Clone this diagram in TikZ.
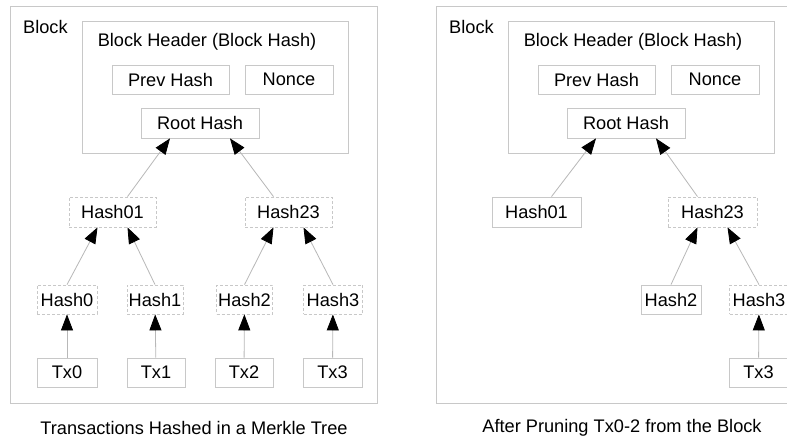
\documentclass[tikz,border=0pt]{standalone}
\usepackage{fontspec}
\setmainfont{Liberation Sans}
\usetikzlibrary{arrows.meta,calc}
\definecolor{boxgray}{HTML}{C8C8C8}
\definecolor{linegray}{HTML}{B8B8B8}
\begin{document}
\begin{tikzpicture}[x=1pt,y=-1pt, font=\fontsize{18.2}{21}\selectfont,
  box/.style={draw=boxgray, line width=0.8pt, inner sep=0pt, minimum height=29pt},
  dbox/.style={box, dash pattern=on 3pt off 2pt},
  lbl/.style={inner sep=0pt},
  arr/.style={draw=linegray, line width=0.8pt, -{Triangle[length=16pt,width=12pt,black]}},
  frame/.style={draw=boxgray, line width=0.8pt}]
\fill[white] (0,0) rectangle (787,440);
\clip (0,0) rectangle (787,440);
% ---------- left panel ----------
\draw[frame] (10,6) rectangle (377,403);
\draw[frame] (82,21) rectangle (348,153);
\node[lbl, anchor=west] (blkL) at (23,27) {Block};
\node[lbl] (hdrL) at (207,42) {Block Header (Block Hash)};
\node[box, minimum width=117pt] (prevL) at (170.5,79.5) {Prev Hash};
\node[box, minimum width=88pt] (nonceL) at (289,79.5) {Nonce};
\node[box, minimum width=118pt, minimum height=30pt] (rootL) at (200,123) {Root Hash};
\node[dbox, minimum width=87pt, minimum height=30pt] (h01L) at (112.5,212) {Hash01};
\node[dbox, minimum width=87pt, minimum height=30pt] (h23L) at (288.5,212) {Hash23};
\node[dbox, minimum width=60pt] (h0L) at (67,299.5) {Hash0};
\node[dbox, minimum width=56pt] (h1L) at (155,299.5) {Hash1};
\node[dbox, minimum width=56pt] (h2L) at (244.5,299.5) {Hash2};
\node[dbox, minimum width=59pt] (h3L) at (333,299.5) {Hash3};
\node[box, minimum width=60pt] (tx0L) at (67,372.5) {Tx0};
\node[box, minimum width=58pt] (tx1L) at (156,372.5) {Tx1};
\node[box, minimum width=58pt] (tx2L) at (244,372.5) {Tx2};
\node[box, minimum width=59pt] (tx3L) at (332.5,372.5) {Tx3};
\node[lbl] (capL) at (194,428) {Transactions Hashed in a Merkle Tree};
\draw[arr] ($(h01L.north)+(15,0)$) -- ($(rootL.south)+(-30,0)$);
\draw[arr] ($(h23L.north)+(-15,0)$) -- ($(rootL.south)+(30,0)$);
\draw[arr] (h0L.north) -- ($(h01L.south)+(-15,0)$);
\draw[arr] (h1L.north) -- ($(h01L.south)+(15,0)$);
\draw[arr] (h2L.north) -- ($(h23L.south)+(-15,0)$);
\draw[arr] (h3L.north) -- ($(h23L.south)+(15,0)$);
\draw[arr] (tx0L) -- (h0L);
\draw[arr] (tx1L) -- (h1L);
\draw[arr] (tx2L) -- (h2L);
\draw[arr] (tx3L) -- (h3L);
% ---------- right panel ----------
\begin{scope}[xshift=426pt]
\draw[frame] (10,6) rectangle (377,403);
\draw[frame] (82,21) rectangle (348,153);
\node[lbl, anchor=west] (blkR) at (23,27) {Block};
\node[lbl] (hdrR) at (207,42) {Block Header (Block Hash)};
\node[box, minimum width=117pt] (prevR) at (170.5,79.5) {Prev Hash};
\node[box, minimum width=88pt] (nonceR) at (289,79.5) {Nonce};
\node[box, minimum width=118pt, minimum height=30pt] (rootR) at (200,123) {Root Hash};
\node[box, minimum width=89pt, minimum height=30pt] (h01R) at (110.5,212) {Hash01};
\node[dbox, minimum width=89pt, minimum height=30pt] (h23R) at (286.5,212) {Hash23};
\node[box, minimum width=60pt] (h2R) at (245,299.5) {Hash2};
\node[dbox, minimum width=59pt] (h3R) at (333,299.5) {Hash3};
\node[box, minimum width=59pt] (tx3R) at (332.5,372.5) {Tx3};
\node[lbl] (capR) at (196,428) {After Pruning Tx0-2 from the Block};
\draw[arr] ($(h01R.north)+(15,0)$) -- ($(rootR.south)+(-30,0)$);
\draw[arr] ($(h23R.north)+(-15,0)$) -- ($(rootR.south)+(30,0)$);
\draw[arr] (h2R.north) -- ($(h23R.south)+(-15,0)$);
\draw[arr] (h3R.north) -- ($(h23R.south)+(15,0)$);
\draw[arr] (tx3R) -- (h3R);
\end{scope}
\end{tikzpicture}
\end{document}
